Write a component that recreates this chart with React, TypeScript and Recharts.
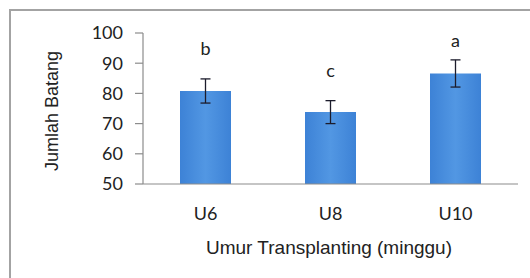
import { BarChart, Bar, XAxis, YAxis, ErrorBar, LabelList } from 'recharts';

const categories = ['U6', 'U8', 'U10'];
const means = [80.8, 73.8, 86.6];
const errors = [4.0, 3.8, 4.5];
const letters = ['b', 'c', 'a'];
const yTicks = [50, 60, 70, 80, 90, 100];

const data = categories.map((name, i) => ({
  name,
  value: means[i],
  err: errors[i],
  letter: letters[i],
}));

const AXIS_GRAY = '#8c8c8c';
const PLOT_TOP = 33;

const LetterLabel = (props: any) => {
  const { x, y, width, height, value, index } = props;
  const pxPerUnit = height / (means[index] - 50);
  const errTop = y - errors[index] * pxPerUnit;
  const cy = Math.max(errTop - 29, PLOT_TOP + 9);
  return (
    <text
      x={x + width / 2}
      y={cy}
      dy="0.3em"
      textAnchor="middle"
      fontFamily="Lato"
      fontSize={18}
      fill="#222"
    >
      {value}
    </text>
  );
};

const YTitle = () => (
  <text
    x={52}
    y={111}
    transform="rotate(-90 52 111)"
    textAnchor="middle"
    dy="0.35em"
    fontFamily="Liberation Sans"
    fontSize={18}
    fill="#222"
  >
    Jumlah Batang
  </text>
);

const XTitle = () => (
  <text
    x={329}
    y={247}
    textAnchor="middle"
    dy="0.35em"
    fontFamily="Liberation Sans"
    fontSize={19}
    fill="#222"
  >
    Umur Transplanting (minggu)
  </text>
);

const App = () => {
  return (
    <div
      style={{
        position: 'absolute',
        left: 0,
        top: 0,
        width: 530,
        height: 278,
        overflow: 'hidden',
        background: '#fff',
      }}
    >
      <div
        style={{
          position: 'absolute',
          left: 9,
          top: 9,
          width: 560,
          height: 300,
          border: '2px solid #a3a3a3',
        }}
      />
      <div style={{ position: 'absolute', left: 0, top: 0 }}>
        <BarChart
          width={530}
          height={278}
          data={data}
          margin={{ top: PLOT_TOP, right: 12, left: 0, bottom: 0 }}
        >
          <defs>
            <linearGradient id="barFill" x1="0" y1="0" x2="1" y2="0">
              <stop offset="0%" stopColor="#3d82d6" />
              <stop offset="50%" stopColor="#5297e3" />
              <stop offset="100%" stopColor="#3d82d6" />
            </linearGradient>
          </defs>
          <XAxis
            dataKey="name"
            height={94}
            tickLine={false}
            tickSize={0}
            tickMargin={23}
            axisLine={{ stroke: AXIS_GRAY, strokeWidth: 1.2 }}
            tick={{ fontFamily: 'Lato', fontSize: 18, fill: '#222' }}
            label={<XTitle />}
          />
          <YAxis
            width={143}
            domain={[50, 100]}
            ticks={yTicks}
            allowDataOverflow
            tickSize={8}
            tickMargin={12}
            axisLine={{ stroke: AXIS_GRAY, strokeWidth: 1.2 }}
            tickLine={{ stroke: AXIS_GRAY, strokeWidth: 1.2 }}
            tick={{ fontFamily: 'Lato', fontSize: 18, fill: '#222' }}
            label={<YTitle />}
          />
          <Bar dataKey="value" fill="url(#barFill)" barSize={51} isAnimationActive={false}>
            <ErrorBar dataKey="err" width={5} stroke="#1c1c2c" strokeWidth={1.3} />
            <LabelList dataKey="letter" content={<LetterLabel />} />
          </Bar>
        </BarChart>
      </div>
    </div>
  );
};

export default App;
